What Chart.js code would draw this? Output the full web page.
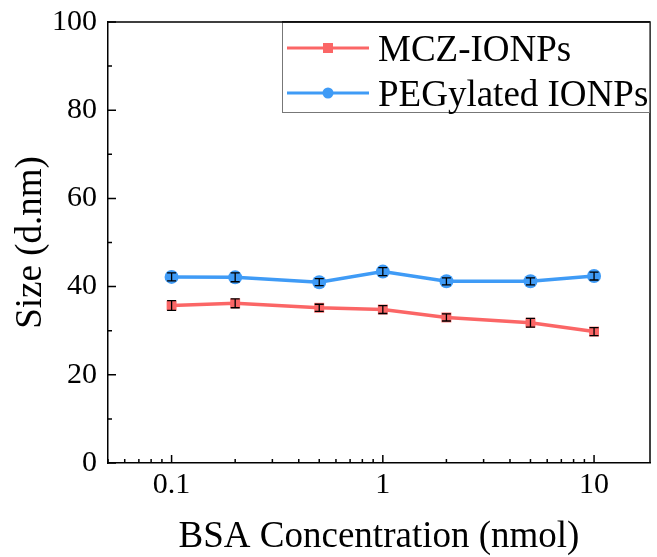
<!DOCTYPE html>
<html>
<head>
<meta charset="utf-8">
<script src="https://cdn.jsdelivr.net/npm/chart.js@4"></script>
<style>
  html, body { margin: 0; padding: 0; background: #fff; }
</style>
</head>
<body>
<canvas id="chart" width="657" height="557"></canvas>
<script>
const concentrations = [0.1, 0.2, 0.5, 1, 2, 5, 10];
const mczSize = [35.7, 36.2, 35.2, 34.8, 33.0, 31.8, 29.8];
const mczErr = [1.1, 1.0, 0.8, 0.9, 0.8, 1.0, 0.9];
const pegSize = [42.2, 42.1, 41.0, 43.4, 41.2, 41.2, 42.4];
const pegErr = [0.9, 1.0, 0.8, 0.9, 0.8, 0.8, 0.9];
const xTickLabels = [0.1, 1, 10];
const yTickLabels = [0, 20, 40, 60, 80, 100];

const serif = "'Liberation Serif', 'Times New Roman', serif";
const red = "#fb6666";
const blue = "#3f9bf6";

const errors = [mczErr, pegErr];

// box, inward ticks, error bars and the legend
const framePlugin = {
  id: "frame",
  afterDatasetsDraw(chart) {
    const ctx = chart.ctx;
    const x = chart.scales.x, y = chart.scales.y;
    const area = chart.chartArea;
    ctx.save();

    // error bars
    ctx.strokeStyle = "#000";
    ctx.lineWidth = 1.3;
    chart.data.datasets.forEach((ds, i) => {
      ds.data.forEach((p, j) => {
        const px = x.getPixelForValue(p.x);
        const top = y.getPixelForValue(p.y + errors[i][j]);
        const bot = y.getPixelForValue(p.y - errors[i][j]);
        ctx.beginPath();
        ctx.moveTo(px, top); ctx.lineTo(px, bot);
        ctx.moveTo(px - 4.5, top); ctx.lineTo(px + 4.5, top);
        ctx.moveTo(px - 4.5, bot); ctx.lineTo(px + 4.5, bot);
        ctx.stroke();
      });
    });

    // top and right spines
    ctx.lineWidth = 1.5;
    ctx.beginPath();
    ctx.moveTo(area.left, area.top); ctx.lineTo(area.right, area.top);
    ctx.lineTo(area.right, area.bottom);
    ctx.stroke();

    // y ticks (inward)
    ctx.beginPath();
    for (let v = 0; v <= 100; v += 10) {
      const py = y.getPixelForValue(v);
      const len = v % 20 === 0 ? 8 : 4;
      ctx.moveTo(area.left, py); ctx.lineTo(area.left + len, py);
    }
    // x ticks (inward)
    for (let d = 0.01; d <= 10; d *= 10) {
      for (let k = 1; k <= 9; k++) {
        const v = d * k;
        if (v < x.min || v > x.max) continue;
        const px = x.getPixelForValue(v);
        const len = k === 1 ? 8 : 4;
        ctx.moveTo(px, area.bottom); ctx.lineTo(px, area.bottom - len);
      }
    }
    ctx.stroke();

    // legend
    const lx = 282, ly = area.top, lw = area.right - 282, lh = 91;
    ctx.fillStyle = "#fff";
    ctx.fillRect(lx, ly, lw, lh);
    ctx.strokeStyle = "#777";
    ctx.lineWidth = 1;
    ctx.strokeRect(lx + 0.5, ly + 0.5, lw - 1, lh - 1);
    ctx.strokeStyle = "#000";
    ctx.lineWidth = 1.5;
    ctx.beginPath();
    ctx.moveTo(lx, ly); ctx.lineTo(area.right, ly);
    ctx.stroke();

    const rows = [ly + 26, ly + 71];
    chart.data.datasets.forEach((ds, i) => {
      const cy = rows[i];
      ctx.strokeStyle = ds.borderColor;
      ctx.lineWidth = 3;
      ctx.beginPath();
      ctx.moveTo(287, cy); ctx.lineTo(369, cy);
      ctx.stroke();
      ctx.fillStyle = ds.borderColor;
      if (ds.pointStyle === "rect") {
        ctx.fillRect(323, cy - 5, 10, 10);
      } else {
        ctx.beginPath();
        ctx.arc(328, cy, 5.5, 0, Math.PI * 2);
        ctx.fill();
      }
      ctx.fillStyle = "#000";
      ctx.font = "37px " + serif;
      ctx.textBaseline = "alphabetic";
      ctx.textAlign = "left";
      ctx.fillText(ds.label, 378, cy + 13);
    });
    ctx.restore();
  }
};

new Chart(document.getElementById("chart"), {
  type: "line",
  data: {
    datasets: [
      {
        label: "MCZ-IONPs",
        data: concentrations.map((c, i) => ({ x: c, y: mczSize[i] })),
        borderColor: red,
        backgroundColor: red,
        borderWidth: 3.5,
        pointStyle: "rect",
        pointRadius: 7,
        pointBorderWidth: 0
      },
      {
        label: "PEGylated IONPs",
        data: concentrations.map((c, i) => ({ x: c, y: pegSize[i] })),
        borderColor: blue,
        backgroundColor: blue,
        borderWidth: 3.5,
        pointStyle: "circle",
        pointRadius: 7,
        pointBorderWidth: 0
      }
    ]
  },
  options: {
    responsive: false,
    animation: false,
    layout: { padding: { left: 0, right: 6, top: 22, bottom: 0 } },
    plugins: { legend: { display: false }, tooltip: { enabled: false } },
    scales: {
      x: {
        type: "logarithmic",
        min: 0.05,
        max: 18.4,
        afterBuildTicks: s => { s.ticks = xTickLabels.map(v => ({ value: v })); },
        afterFit: s => { s.height = 94; s.paddingLeft = 0; s.paddingRight = 0; },
        ticks: {
          color: "#000",
          font: { family: serif, size: 30 },
          padding: 4,
          maxRotation: 0,
          callback: v => String(v)
        },
        grid: { display: false, drawTicks: false },
        border: { display: true, color: "#000", width: 1.5 },
        title: {
          display: true,
          text: "BSA Concentration (nmol)",
          color: "#000",
          font: { family: serif, size: 37, lineHeight: 1 },
          padding: { top: 0, bottom: 1 }
        }
      },
      y: {
        min: 0,
        max: 100,
        afterBuildTicks: s => { s.ticks = yTickLabels.map(v => ({ value: v })); },
        afterFit: s => { s.width = 108; s.paddingTop = 0; s.paddingBottom = 0; },
        ticks: {
          color: "#000",
          font: { family: serif, size: 30 },
          padding: 11
        },
        grid: { display: false, drawTicks: false },
        border: { display: true, color: "#000", width: 1.5 },
        title: {
          display: true,
          text: "Size (d.nm)",
          color: "#000",
          font: { family: serif, size: 37 },
          padding: { top: 9, bottom: 0 }
        }
      }
    }
  },
  plugins: [framePlugin]
});
</script>
</body>
</html>
